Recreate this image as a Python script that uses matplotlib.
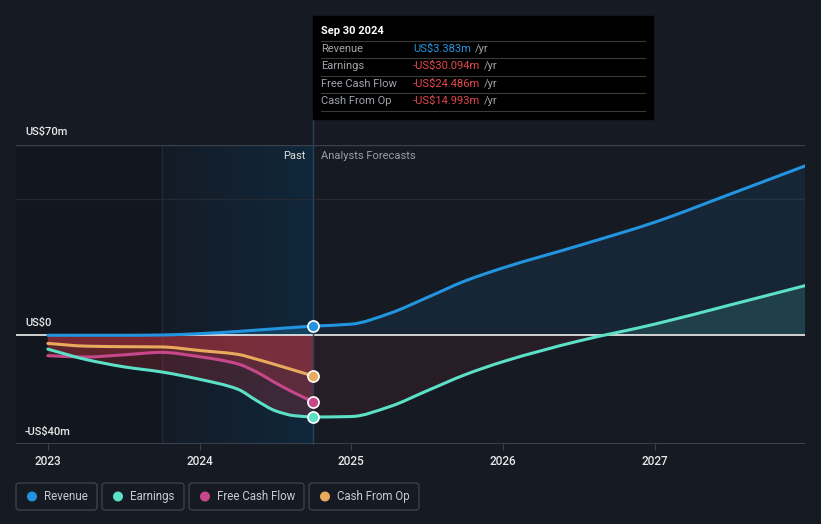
import numpy as np
import matplotlib.pyplot as plt
from matplotlib.patches import Rectangle, FancyBboxPatch, Circle, PathPatch
from matplotlib.path import Path

plt.rcParams['font.family'] = ['Roboto', 'DejaVu Sans']

W, H = 821, 524
bg = '#151a23'

# data (US$ m)
past_x = [2023.0, 2023.25, 2023.5, 2023.75, 2024.0, 2024.25, 2024.375, 2024.5, 2024.625, 2024.75]
rev_past = [0.0, 0.0, 0.0, 0.1, 0.6, 1.4, 1.9, 2.4, 2.9, 3.383]
earn_past = [-5.1, -8.9, -11.6, -13.5, -16.2, -19.8, -24.0, -27.8, -29.6, -30.094]
fcf_past = [-7.5, -8.0, -7.2, -6.3, -7.9, -10.5, -13.5, -17.5, -21.2, -24.486]
cfo_past = [-3.0, -4.0, -4.2, -4.3, -5.6, -7.0, -8.8, -10.8, -12.9, -14.993]

fc_x = [2024.75, 2025.0, 2025.25, 2025.5, 2025.75, 2026.0, 2026.5, 2027.0, 2027.5, 2028.0]
rev_fc = [3.383, 4.1, 8.0, 13.9, 20.0, 24.8, 33.0, 41.6, 52.0, 62.5]
earn_fc = [-30.094, -29.9, -26.3, -20.4, -14.5, -9.7, -2.1, 4.1, 11.2, 18.4]

years = [2023, 2024, 2025, 2026, 2027]
year_labels = ['2023', '2024', '2025', '2026', '2027']

c_rev = '#2394df'
c_earn = '#5ce0c6'
c_fcf = '#c6488b'
c_cfo = '#e8aa5c'


def curve_verts(x, y):
    # monotone cubic (like d3 curveMonotoneX) as bezier segments
    x = np.asarray(x, float)
    y = np.asarray(y, float)
    h = np.diff(x)
    d = np.diff(y) / h
    m = np.zeros_like(y)
    m[0], m[-1] = d[0], d[-1]
    for i in range(1, len(y) - 1):
        if d[i - 1] * d[i] <= 0:
            m[i] = 0
        else:
            w1 = 2 * h[i] + h[i - 1]
            w2 = h[i] + 2 * h[i - 1]
            m[i] = (w1 + w2) / (w1 / d[i - 1] + w2 / d[i])
    verts = [(x[0], y[0])]
    codes = [Path.MOVETO]
    for i in range(len(x) - 1):
        verts += [(x[i] + h[i] / 3, y[i] + m[i] * h[i] / 3),
                  (x[i + 1] - h[i] / 3, y[i + 1] - m[i + 1] * h[i] / 3),
                  (x[i + 1], y[i + 1])]
        codes += [Path.CURVE4] * 3
    return verts, codes


def draw_line(ax, x, y, color, lw=2.2):
    v, c = curve_verts(x, y)
    ax.add_patch(PathPatch(Path(v, c), fc='none', ec=color, lw=lw, zorder=4,
                           capstyle='round', joinstyle='round'))


def draw_area(ax, x, y, color, alpha, clip=None):
    v, c = curve_verts(x, y)
    v = v + [(x[-1], 0), (x[0], 0), (x[0], y[0])]
    c = c + [Path.LINETO, Path.LINETO, Path.CLOSEPOLY]
    p = PathPatch(Path(v, c), fc=color, ec='none', alpha=alpha, zorder=2)
    ax.add_patch(p)
    if clip is not None:
        p.set_clip_path(clip)


fig = plt.figure(figsize=(W / 100, H / 100), dpi=100, facecolor=bg)
ax = fig.add_axes([16 / W, 1 - 444 / H, (805 - 16) / W, (444 - 145) / H])
ax.set_facecolor(bg)
x0, x1 = 2022.79, 2027.99
ax.set_xlim(x0, x1)
ax.set_ylim(-40, 70)

# background regions
ax.imshow(np.array([[[0x12, 0x16, 0x1e]]]) / 255, extent=[x0, 2023.75, -40, 70],
          aspect='auto', zorder=0)
left_c = np.array([0x14, 0x1b, 0x26]) / 255
right_c = np.array([0x10, 0x27, 0x3b]) / 255
t = np.linspace(0, 1, 200)[:, None]
grad = (left_c * (1 - t) + right_c * t)[None, :, :]
ax.imshow(grad, extent=[2023.75, 2024.75, -40, 70], aspect='auto', zorder=0)
ax.axvline(2023.75, color='#1e2a37', lw=1, zorder=1)

# grid lines
ax.axhline(70, color='#3b414b', lw=1, zorder=1)
ax.axhline(50, color='#242a33', lw=1, zorder=1)
ax.axhline(-40, color='#3b414b', lw=1.5, zorder=1)

# fills
for s in [cfo_past, fcf_past, earn_past]:
    draw_area(ax, past_x, s, '#d83a45', 0.22)
draw_area(ax, past_x, rev_past, c_rev, 0.25)
neg = Rectangle((x0, -40), x1 - x0, 40, transform=ax.transData)
pos = Rectangle((x0, 0), x1 - x0, 70, transform=ax.transData)
draw_area(ax, fc_x, earn_fc, '#c0404f', 0.1, clip=neg)
draw_area(ax, fc_x, earn_fc, c_earn, 0.15, clip=pos)
draw_area(ax, fc_x, rev_fc, c_rev, 0.1, clip=pos)

ax.axhline(0, color='#f0f0f0', lw=1.2, zorder=3)

# lines
draw_line(ax, past_x, cfo_past, c_cfo)
draw_line(ax, past_x, fcf_past, c_fcf)
draw_line(ax, past_x, earn_past, c_earn)
draw_line(ax, past_x, rev_past, c_rev)
draw_line(ax, fc_x, earn_fc, c_earn)
draw_line(ax, fc_x, rev_fc, c_rev)

ax.plot([2024.75, 2024.75], [-40, 80], color='#2a4257', lw=1, zorder=3, clip_on=False)

for val, c in [(rev_past[-1], c_rev), (earn_past[-1], c_earn), (fcf_past[-1], c_fcf), (cfo_past[-1], c_cfo)]:
    ax.plot([2024.75], [val], 'o', ms=8, mfc=c, mec='white', mew=1.2, zorder=5)

for s in ax.spines.values():
    s.set_visible(False)
ax.set_yticks([])
ax.set_xticks(years)
ax.set_xticklabels(year_labels, color='#e8e8e8', fontsize=8.5, fontweight='medium')
ax.tick_params(axis='x', length=4, color='#3b414b', pad=4)

# overlay in pixel coordinates
ov = fig.add_axes([0, 0, 1, 1], facecolor='none')
ov.set_xlim(0, W)
ov.set_ylim(H, 0)
ov.axis('off')

ov.text(25, 132, 'US$70m', color='#e8e8e8', fontsize=8, fontweight='medium', va='center')
ov.text(25, 323, 'US$0', color='#e8e8e8', fontsize=8, fontweight='medium', va='center')
ov.text(25, 432, '-US$40m', color='#e8e8e8', fontsize=8, fontweight='medium', va='center')
ov.text(305, 156, 'Past', color='#e0e0e0', fontsize=8, ha='right', va='center')
ov.text(321, 156, 'Analysts Forecasts', color='#9a9ea5', fontsize=8, va='center')

# tooltip
ov.add_patch(Rectangle((313, 16), 340, 103, color='black', zorder=5))
ov.text(321, 31, 'Sep 30 2024', color='white', fontsize=8, fontweight='bold', va='center', zorder=6)
for yy in [41.3, 58.3, 76, 93.3, 111]:
    ov.plot([321, 645], [yy, yy], color='#3a3a3a', lw=0.8, zorder=6)
rows = [('Revenue', 'US$3.383m', c_rev, 49),
        ('Earnings', '-US$30.094m', '#e5484d', 66),
        ('Free Cash Flow', '-US$24.486m', '#e5484d', 84),
        ('Cash From Op', '-US$14.993m', '#e5484d', 101)]
fig.canvas.draw()
r = fig.canvas.get_renderer()
for lab, val, c, yy in rows:
    ov.text(321, yy, lab, color='#a0a4aa', fontsize=8, va='center', zorder=6)
    tv = ov.text(413, yy, val, color=c, fontsize=8, va='center', zorder=6)
    bb = tv.get_window_extent(renderer=r)
    ov.text(bb.x1 + 4, yy, '/yr', color='#a0a4aa', fontsize=8, va='center', zorder=6)

# legend
legend = [('Revenue', c_rev, 16, 97), ('Earnings', c_earn, 102, 184),
          ('Free Cash Flow', c_fcf, 189, 304), ('Cash From Op', c_cfo, 309, 419)]
for lab, c, a, b in legend:
    ov.add_patch(FancyBboxPatch((a, 483), b - a, 27, boxstyle='round,pad=0,rounding_size=3',
                                fc='none', ec='#3b414b', lw=1))
    ov.add_patch(Circle((a + 16, 496.5), 4.3, color=c))
    ov.text(a + 28, 496.5, lab, color='#c8ccd2', fontsize=8.3, va='center')

fig.savefig('out.png', dpi=100, facecolor=bg)
